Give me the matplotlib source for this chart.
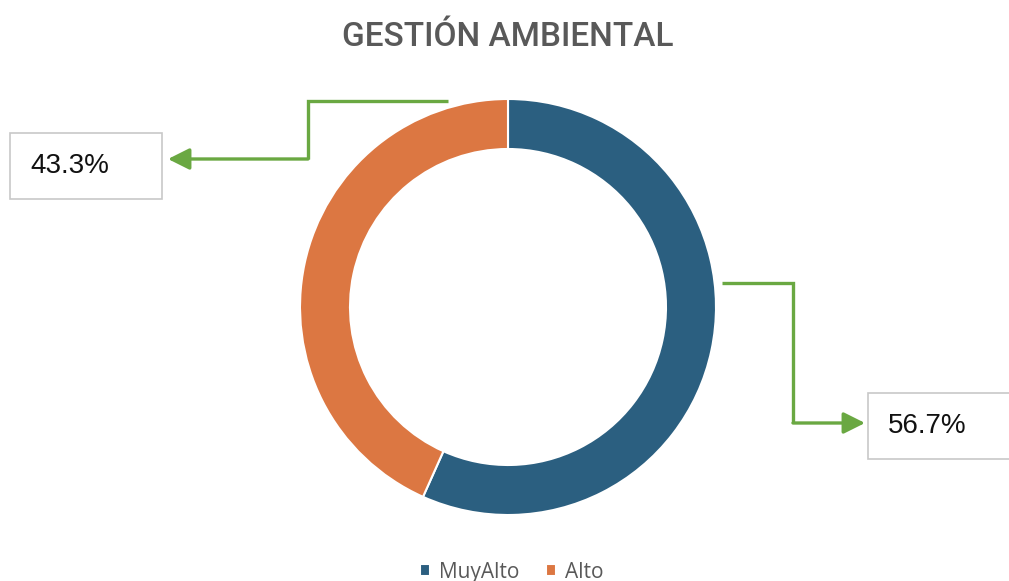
import matplotlib.pyplot as plt
from matplotlib.patches import Rectangle

categories = ['MuyAlto', 'Alto']
values = [56.7, 43.3]
colors = ['#2b5f80', '#dc7742']
green = '#6aa842'

W, H = 1009, 581

fig = plt.figure(figsize=(W / 100, H / 100), dpi=100)
ax = fig.add_axes([0, 0, 1, 1])

def py(y):
    # pixel row -> data y
    return H - y

# donut
wedges, _ = ax.pie(values, colors=colors, startangle=90, counterclock=False,
                   center=(508, py(307)), radius=208, frame=True,
                   wedgeprops=dict(width=50, edgecolor='white', linewidth=1.5))
ax.set_xlim(0, W)
ax.set_ylim(0, H)
ax.set_aspect('equal')
ax.axis('off')

ax.text(508, py(37), 'GESTIÓN AMBIENTAL', ha='center', va='center',
        fontsize=24, color='#595959', family='Roboto', weight='medium')

# leader lines
def leader(pts, tip):
    xs = [p[0] for p in pts]
    ys = [py(p[1]) for p in pts]
    ax.plot(xs, ys, color=green, lw=2.4, solid_capstyle='butt',
            solid_joinstyle='miter')
    ax.annotate('', xy=(tip[0], py(tip[1])), xytext=(xs[-1], ys[-1]),
                arrowprops=dict(arrowstyle='-|>,head_length=1.3,head_width=0.65',
                                color=green, lw=2.4, shrinkA=0, shrinkB=0))

leader([(448, 101), (308, 101), (308, 159)], (168, 159))
leader([(722, 283), (793, 283), (793, 423)], (865, 423))

# label boxes
labels = [f'{v:.1f}%' for v in values]
boxes = [(868, 393, 160, 66), (10, 133, 152, 66)]
for lab, (bx, by, bw, bh) in zip(labels, boxes):
    ax.add_patch(Rectangle((bx, py(by + bh)), bw, bh, facecolor='white',
                           edgecolor='#c8c8c8', lw=1.2, clip_on=False))
    ax.text(bx + 20, py(by + bh / 2), lab, ha='left', va='center',
            fontsize=20, color='#111111', family='Liberation Sans')

leg = fig.legend(wedges, categories, loc='lower center', ncol=2,
                 bbox_to_anchor=(0.507, -0.035), frameon=False,
                 prop={'family': 'Open Sans', 'size': 15, 'weight': 'medium'},
                 handlelength=0.5, handleheight=0.5, handletextpad=0.4,
                 columnspacing=1.3, labelcolor='#595959')

fig.savefig('out.png', dpi=100)
